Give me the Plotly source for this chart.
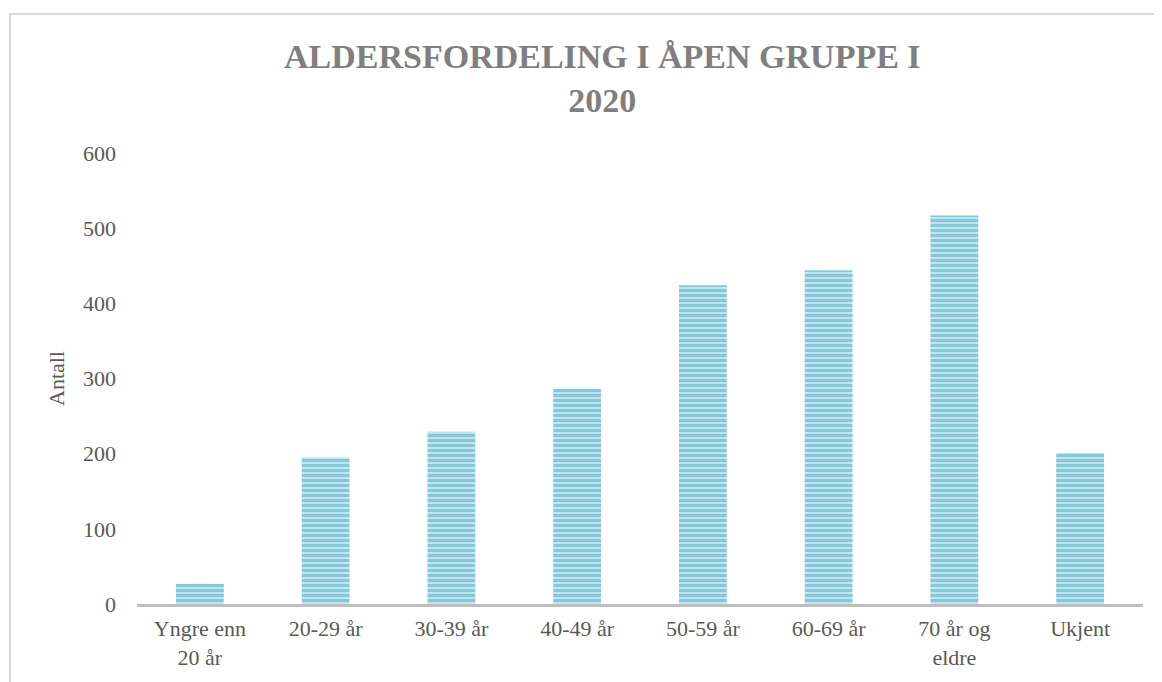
import plotly.graph_objects as go

# ── Data ────────────────────────────────────────────────────────────────────
CATEGORIES = [
    "Yngre enn<br>20 år", "20-29 år", "30-39 år", "40-49 år",
    "50-59 år", "60-69 år", "70 år og<br>eldre", "Ukjent",
]
ANTALL = [27, 195, 229, 286, 424, 444, 517, 201]
Y_TICKS = [0, 100, 200, 300, 400, 500, 600]

# ── Style ───────────────────────────────────────────────────────────────────
FONT = "Liberation Serif, Times New Roman, serif"
TICK_COLOR = "#595959"
TITLE_COLOR = "#7f7f7f"
BAR_DARK = "#4bacc6"
BAR_LIGHT = "#c0e5ef"

fig = go.Figure(
    go.Bar(
        x=CATEGORIES,
        y=ANTALL,
        marker=dict(
            color=BAR_LIGHT,
            line=dict(width=0),
            pattern=dict(shape="-", fgcolor=BAR_DARK, bgcolor=BAR_LIGHT,
                         size=5, solidity=0.6, fillmode="overlay"),
        ),
        showlegend=False,
    )
)

# page body has an 8px margin, so the figure is 8px smaller than the window
fig.update_layout(
    width=1154, height=674,
    margin=dict(l=129, r=19, t=145, b=78),
    paper_bgcolor="white",
    plot_bgcolor="white",
    bargap=0.62,
    font=dict(family=FONT, color=TICK_COLOR, size=22),
    title=dict(
        text="<b>ALDERSFORDELING I ÅPEN GRUPPE I<br>2020</b>",
        x=0.515, xanchor="center",
        yref="container", y=0.911, yanchor="middle",
        font=dict(family=FONT, size=34, color=TITLE_COLOR),
    ),
    shapes=[
        dict(type="rect", xref="paper", yref="paper",
             x0=-0.1262, x1=1.03, y0=-0.3, y1=1.308,
             line=dict(color="#d9d9d9", width=2), fillcolor="rgba(0,0,0,0)",
             layer="below"),
    ],
)

fig.update_xaxes(
    showline=True, linecolor="#bfbfbf", linewidth=3,
    showgrid=False, ticks="", ticklabelstandoff=3,
    tickfont=dict(size=22, color=TICK_COLOR),
)
fig.update_yaxes(
    range=[0, 600], tickvals=Y_TICKS, showgrid=False, zeroline=False,
    showline=False, ticks="", ticklabelstandoff=20,
    tickfont=dict(size=22, color=TICK_COLOR),
    title=dict(text="Antall", font=dict(size=22, color=TICK_COLOR), standoff=12),
)

fig.write_html("out.html")
